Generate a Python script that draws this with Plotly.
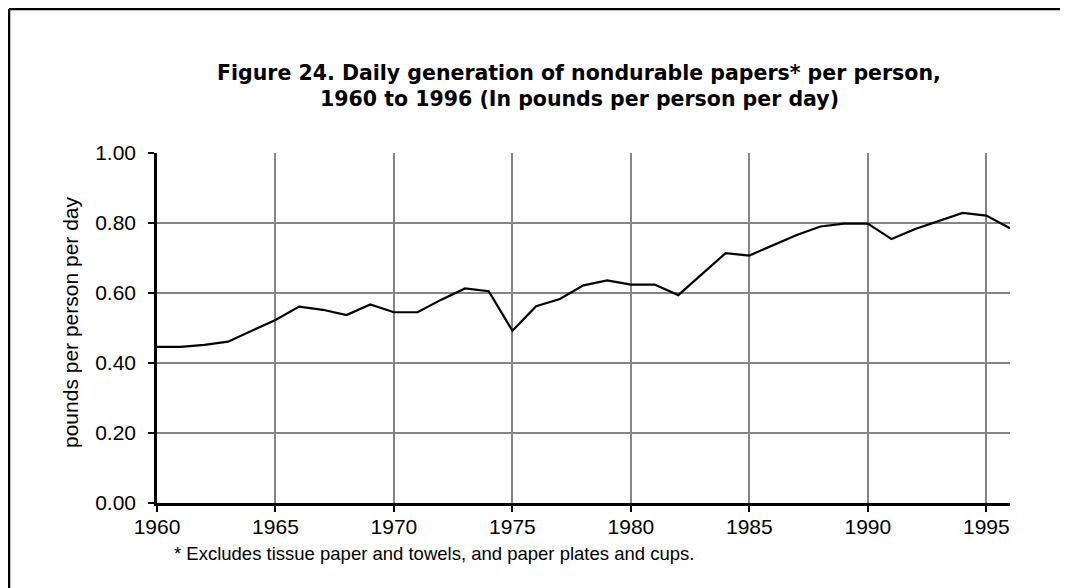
import plotly.graph_objects as go

years = list(range(1960, 1997))
values = [0.446, 0.446, 0.452, 0.461, 0.492, 0.523, 0.561, 0.552, 0.537, 0.567,
          0.545, 0.545, 0.581, 0.613, 0.605, 0.492, 0.562, 0.583, 0.622, 0.636,
          0.624, 0.624, 0.594, 0.654, 0.714, 0.707, 0.737, 0.766, 0.790, 0.798,
          0.798, 0.754, 0.783, 0.807, 0.829, 0.821, 0.785]
x_ticks = [1960, 1965, 1970, 1975, 1980, 1985, 1990, 1995]
y_ticks = [0.0, 0.2, 0.4, 0.6, 0.8, 1.0]
y_tick_labels = ["0.00", "0.20", "0.40", "0.60", "0.80", "1.00"]
title_lines = ["Figure 24. Daily generation of nondurable papers* per person,",
               "1960 to 1996 (In pounds per person per day)"]
y_title = "pounds per person per day"
footnote = "* Excludes tissue paper and towels, and paper plates and cups."

# page has an 8px body margin, so the figure is drawn 8px right/down
OFF = 8
W, H = 1060, 580
L, T = 157 - OFF, 153 - OFF
PW, PH = 853, 350
R, B = W - L - PW, H - T - PH


def px(x):
    # screen x -> paper fraction
    return (x - OFF - L) / PW


def py(y):
    # screen y -> paper fraction
    return (T + PH - (y - OFF)) / PH


FONT = "Liberation Sans, Arial, sans-serif"
TFONT = "DejaVu Sans, sans-serif"

fig = go.Figure()
fig.add_trace(go.Scatter(x=years, y=values, mode="lines",
                         line=dict(color="black", width=2.2), hoverinfo="skip"))

fig.update_layout(
    width=W, height=H,
    margin=dict(l=L, r=R, t=T, b=B, pad=0),
    paper_bgcolor="white", plot_bgcolor="white",
    showlegend=False,
    font=dict(family=FONT, color="black", size=21),
    xaxis=dict(range=[1960, 1996], tickvals=x_ticks, ticktext=[str(v) for v in x_ticks],
               showgrid=True, gridcolor="#858585", gridwidth=2,
               showline=True, linecolor="black", linewidth=2.5,
               ticks="outside", ticklen=6, tickwidth=2, tickcolor="black",
               ticklabelstandoff=-3, zeroline=False,
               tickfont=dict(family=FONT, size=21, color="black")),
    yaxis=dict(range=[0, 1], tickvals=y_ticks, ticktext=y_tick_labels,
               showgrid=True, gridcolor="#858585", gridwidth=2,
               showline=True, linecolor="black", linewidth=2.5,
               ticks="outside", ticklen=6, tickwidth=2, tickcolor="black",
               ticklabelstandoff=8, zeroline=False,
               tickfont=dict(family=FONT, size=21, color="black")),
    shapes=[
        dict(type="line", xref="paper", yref="paper", x0=px(9), x1=px(1080),
             y0=py(9), y1=py(9), line=dict(color="black", width=2.5)),
        dict(type="line", xref="paper", yref="paper", x0=px(9), x1=px(9),
             y0=py(9), y1=py(600), line=dict(color="black", width=2.5)),
    ],
    annotations=[
        dict(text=title_lines[0], xref="paper", yref="paper", x=px(579), y=py(73),
             showarrow=False, xanchor="center", yanchor="middle",
             font=dict(family=TFONT, size=20.5, color="black", weight="bold")),
        dict(text=title_lines[1], xref="paper", yref="paper", x=px(579), y=py(99),
             showarrow=False, xanchor="center", yanchor="middle",
             font=dict(family=TFONT, size=20.5, color="black", weight="bold")),
        dict(text=y_title, xref="paper", yref="paper", x=px(70), y=py(322),
             showarrow=False, xanchor="center", yanchor="middle", textangle=-90,
             font=dict(family=FONT, size=21, color="black")),
        dict(text=footnote, xref="paper", yref="paper", x=px(172), y=py(553),
             showarrow=False, xanchor="left", yanchor="middle",
             font=dict(family=FONT, size=18.5, color="black")),
    ],
)

fig.write_html("out.html")
